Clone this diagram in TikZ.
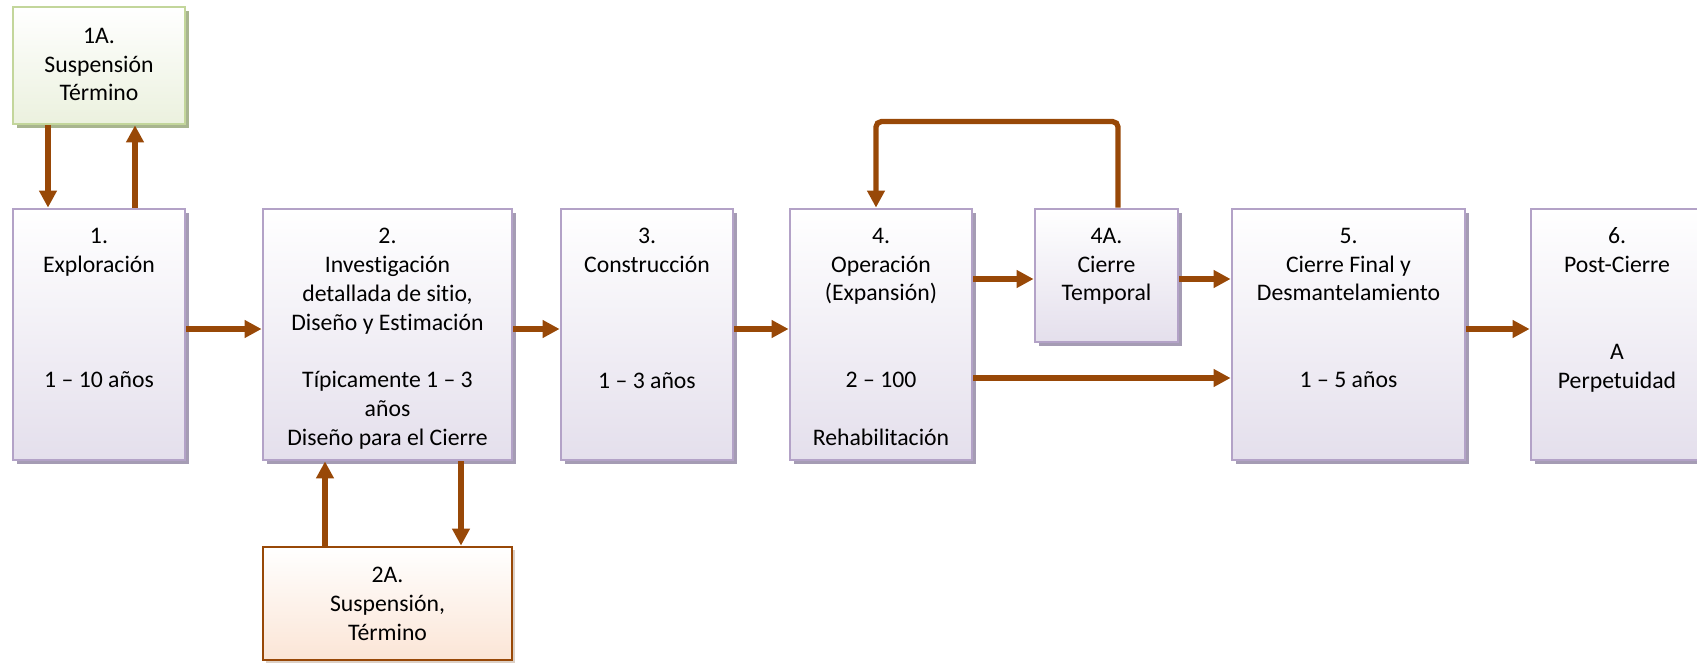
\documentclass[tikz,border=0pt]{standalone}
\usepackage{fontspec}
\setmainfont{Carlito}[Ligatures={TeX,NoCommon}]
\usetikzlibrary{arrows.meta,shadows}
\begin{document}
\begin{tikzpicture}[
  cajabase/.style={line width=1.6pt, top color=white, inner sep=0pt},
  caja/.style={cajabase, draw=lilaBorde, bottom color=lilaFondo, minimum height=5.02cm,
    general shadow={fill=lilaSombra, shadow xshift=0.08cm, shadow yshift=-0.08cm}},
  cajaverde/.style={cajabase, draw=verdeBorde, bottom color=verdeFondo,
    general shadow={fill=verdeSombra, shadow xshift=0.08cm, shadow yshift=-0.08cm}},
  cajanaranja/.style={cajabase, draw=flechaCafe, bottom color=naranjaFondo,
    general shadow={fill=naranjaSombra, shadow xshift=0.06cm, shadow yshift=-0.06cm}},
  texto/.style={align=center, inner sep=0pt, anchor=north, font=\fontsize{13.5}{16.44}\selectfont},
  flecha/.style={draw=flechaCafe, line width=3pt, -{Triangle[length=0.34cm,width=0.34cm]}}
]
\definecolor{lilaBorde}{HTML}{B3A2C7}
\definecolor{lilaFondo}{HTML}{E4DFEC}
\definecolor{lilaSombra}{HTML}{A59CB4}
\definecolor{verdeBorde}{HTML}{C3D69B}
\definecolor{verdeFondo}{HTML}{EBF1DE}
\definecolor{verdeSombra}{HTML}{A8B58F}
\definecolor{naranjaFondo}{HTML}{FBE5D6}
\definecolor{naranjaSombra}{HTML}{DCD0C6}
\definecolor{flechaCafe}{HTML}{984807}

\clip (0,0) rectangle (33.94,13.24);%los margenes

% las cajas
\node[cajaverde, minimum width=3.44cm, minimum height=2.34cm] (n1A) at (1.98,11.93){};
\node[caja, minimum width=3.44cm] (n1) at (1.98,6.55){};
\node[caja, minimum width=4.98cm] (n2) at (7.75,6.55){};
\node[cajanaranja, minimum width=4.98cm, minimum height=2.26cm] (n2A) at (7.75,1.17){};
\node[caja, minimum width=3.44cm] (n3) at (12.94,6.55){};
\node[caja, minimum width=3.64cm] (n4) at (17.62,6.55){};
\node[caja, minimum width=2.86cm, minimum height=2.66cm] (n4A) at (22.13,7.73){};
\node[caja, minimum width=4.66cm] (n5) at (26.97,6.55){};
\node[caja, minimum width=3.44cm] (n6) at (32.34,6.55){};

% los textos
\node[texto] (t1A) at ([yshift=-0.44cm]n1A.north){1A.\\Suspensión\\Término};
\node[texto] (t1) at ([yshift=-0.4cm]n1.north){1.\\Exploración\\[1.74cm]1 – 10 años};
\node[texto] (t2) at ([yshift=-0.4cm]n2.north){2.\\Investigación\\detallada de sitio,\\Diseño y Estimación\\[0.58cm]Típicamente 1 – 3\\años\\Diseño para el Cierre};
\node[texto] (t2A) at ([yshift=-0.42cm]n2A.north){2A.\\Suspensión,\\Término};
\node[texto] (t3) at ([yshift=-0.4cm]n3.north){3.\\Construcción\\[1.74cm]1 – 3 años};
\node[texto] (t4) at ([yshift=-0.4cm]n4.north){4.\\Operación\\(Expansión)\\[1.16cm]2 – 100\\[0.58cm]Rehabilitación};
\node[texto] (t4A) at ([yshift=-0.4cm]n4A.north){4A.\\Cierre\\Temporal};
\node[texto] (t5) at ([yshift=-0.4cm]n5.north){5.\\Cierre Final y\\Desmantelamiento\\[1.16cm]1 – 5 años};
\node[texto] (t6) at ([yshift=-0.4cm]n6.north){6.\\Post-Cierre\\[1.16cm]A\\Perpetuidad};

% las flechas
\draw[flecha] ([xshift=-1.02cm]n1A.south) -- ([xshift=-1.02cm]n1A.south |- n1.north);
\draw[flecha] ([xshift=0.72cm]n1A.south |- n1.north) -- ([xshift=0.72cm]n1A.south);
\draw[flecha] ([yshift=0.11cm]n1.east) -- ([yshift=0.11cm]n2.west);
\draw[flecha] ([xshift=-1.25cm]n2A.north) -- ([xshift=-1.25cm]n2A.north |- n2.south);
\draw[flecha] ([xshift=1.47cm]n2A.north |- n2.south) -- ([xshift=1.47cm]n2A.north);
\draw[flecha] ([yshift=0.11cm]n2.east) -- ([yshift=0.11cm]n3.west);
\draw[flecha] ([yshift=0.11cm]n3.east) -- ([yshift=0.11cm]n4.west);
\draw[flecha] ([yshift=-0.07cm]n4A.west -| n4.east) -- ([yshift=-0.07cm]n4A.west);
\draw[flecha] ([yshift=-0.07cm]n4A.east) -- ([yshift=-0.07cm]n4A.east -| n5.west);
\draw[flecha] ([yshift=-0.87cm]n4.east) -- ([yshift=-0.87cm]n4.east -| n5.west);
\draw[flecha, rounded corners=3pt] ([xshift=0.23cm]n4A.north) -- ++(0,1.72) -| ([xshift=-0.1cm]n4.north);%el regreso
\draw[flecha] ([yshift=0.11cm]n5.east) -- ([yshift=0.11cm]n6.west);

\end{tikzpicture}
\end{document}
